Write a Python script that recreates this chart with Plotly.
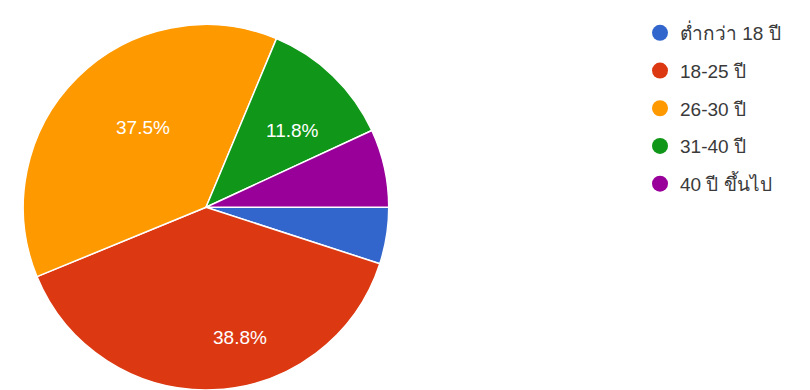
import math
import plotly.graph_objects as go

labels = ["ต่ำกว่า 18 ปี", "18-25 ปี", "26-30 ปี", "31-40 ปี", "40 ปี ขึ้นไป"]
values = [5.0, 38.8, 37.5, 11.8, 6.9]
colors = ["#3366cc", "#dc3912", "#ff9900", "#109618", "#990099"]
show_label = [False, True, True, True, False]
label_radius = [0.0, 0.78, 0.71, 0.68, 0.0]   # style: relative radius of the % labels

W, H = 810, 390
cx, cy, r = 206, 207.5, 183

fig = go.Figure()
fig.add_trace(go.Pie(
    labels=labels, values=values, sort=False, direction="clockwise", rotation=90,
    marker=dict(colors=colors, line=dict(color="white", width=1.5)),
    textinfo="none", showlegend=False, hoverinfo="label+percent",
    domain=dict(x=[(cx - r) / W, (cx + r) / W], y=[max(0, 1 - (cy + r) / H), 1 - (cy - r) / H]),
))

for i, (lab, col) in enumerate(zip(labels, colors)):
    fig.add_trace(go.Scatter(x=[None], y=[None], mode="markers", name=lab,
                             legendgroup=f"g{i}",
                             marker=dict(color=col, size=16, symbol="circle")))

total = sum(values)
cum = 0
annotations = []
for v, show, fr in zip(values, show_label, label_radius):
    mid = (cum + v / 2) / total
    cum += v
    if not show:
        continue
    th = mid * 2 * math.pi
    px = cx + fr * r * math.cos(th)
    py = cy + fr * r * math.sin(th)
    annotations.append(dict(x=px / W, y=1 - py / H, xref="paper", yref="paper",
                            text=f"{v:.1f}%", showarrow=False,
                            font=dict(color="white", size=19, family="Liberation Sans, Arial")))

fig.update_layout(
    width=W, height=H, margin=dict(l=0, r=0, t=0, b=0),
    paper_bgcolor="white", plot_bgcolor="white",
    xaxis=dict(visible=False), yaxis=dict(visible=False),
    annotations=annotations,
    legend=dict(x=640 / W, y=1 - 14 / H, xanchor="left", yanchor="top",
                font=dict(size=19, color="#3a3a3a", family="Liberation Sans, Arial, Noto Sans"),
                itemwidth=30, tracegroupgap=10, bgcolor="rgba(0,0,0,0)"),
    font=dict(family="Liberation Sans, Arial, Noto Sans"),
)

fig.write_html("out.html")
